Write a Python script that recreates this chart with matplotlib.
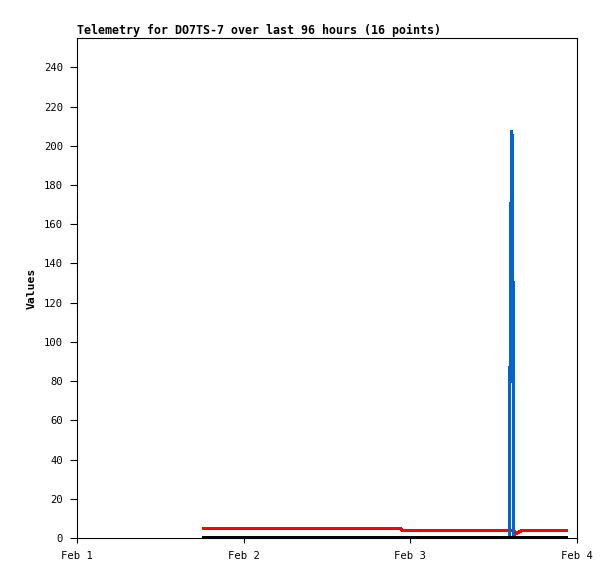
# telemetry chart for DO7TS-7, last 96 hours

import pandas as pd
import matplotlib
matplotlib.use("Agg")
import matplotlib.pyplot as plt

plt.rcParams["path.simplify"] = False

# sample times (hours after Feb 1 00:00)
hours = [18.0, 32.11, 46.51, 46.94, 53.71, 62.28, 62.31, 62.45,
         62.63, 62.83, 62.87, 62.93, 63.0, 64.04, 66.67, 70.70]
red_vals = [4.9, 4.9, 4.9, 3.8, 3.8, 3.8, 3.8, 3.8,
            3.8, 3.8, 3.8, 3.8, 1.9, 3.8, 3.8, 3.8]
blue_vals = [0, 0, 0, 0, 0, 0, 52, 156, 208, 104, 0, 0, 0, 0, 0, 0]
black_vals = [0] * 16

tick_days = ["2024-02-01", "2024-02-02", "2024-02-03", "2024-02-04"]
tick_labels = ["Feb 1", "Feb 2", "Feb 3", "Feb 4"]

start = pd.Timestamp("2024-02-01")
times = [start + pd.Timedelta(hours=h) for h in hours]
ticks = pd.to_datetime(tick_days)

mono = "DejaVu Sans Mono"
line_kw = dict(lw=1.5, antialiased=False, solid_joinstyle="bevel",
               solid_capstyle="butt")

fig = plt.figure(figsize=(6.15, 5.79), dpi=100)
ax = fig.add_axes([77 / 615, 41 / 579, 500 / 615, 500 / 579])

ax.plot(times, red_vals, color="#ff0000", **line_kw)
ax.plot(times, blue_vals, color="#0066cc", **line_kw)
ax.plot(times, black_vals, color="#000000", **line_kw)

ax.set_xlim(ticks[0], ticks[-1])
ax.set_ylim(0, 255)
ax.set_yticks(range(0, 241, 20))
ax.set_xticks(ticks)
ax.set_xticklabels(tick_labels)

for lab in ax.get_xticklabels() + ax.get_yticklabels():
    lab.set_family(mono)
    lab.set_fontsize(7.6)

ax.tick_params(axis="y", direction="out", length=5, width=0.8, pad=5)
ax.tick_params(axis="x", direction="out", length=3.6, width=0.8, pad=6)
for s in ax.spines.values():
    s.set_linewidth(0.8)

ax.set_title("Telemetry for DO7TS-7 over last 96 hours (16 points)",
             loc="left", family=mono, fontsize=8.35, weight="bold", pad=3)
ax.set_ylabel("Values", family=mono, fontsize=8.2, weight="bold", labelpad=5)

fig.savefig("out.png", dpi=100)
